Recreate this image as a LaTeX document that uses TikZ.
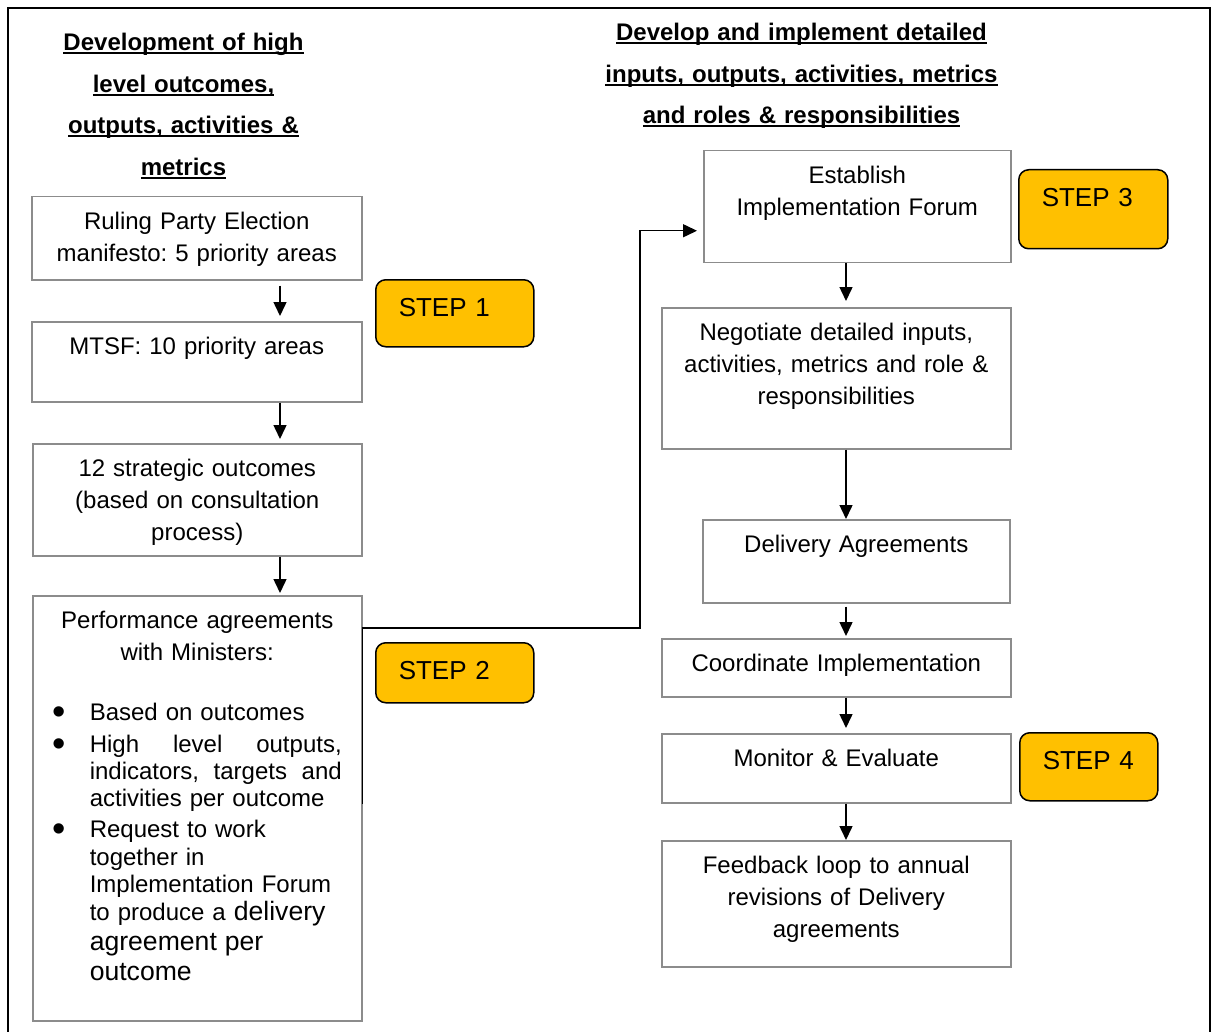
\documentclass[tikz,border=0pt]{standalone}
\usepackage{fontspec}
\setmainfont{Liberation Sans}
\usepackage{xcolor}
\usepackage{tikz}
\usetikzlibrary{arrows.meta, calc}
\definecolor{stepgold}{HTML}{FFC000}
\definecolor{boxgrey}{HTML}{8C8C8C}
\newcommand{\headline}[1]{\leavevmode\setbox0=\hbox{#1}\rlap{\rule[-3.5pt]{\wd0}{2.2pt}}\box0}
\newcommand{\bigtext}{\fontsize{26.6}{30}\selectfont}
\newcommand{\dotmark}{\raisebox{-4pt}{\fontsize{38}{38}\selectfont\textbullet}}
\newcommand{\dotitem}{\par\noindent\hangindent=51pt\hangafter=0\llap{\dotmark\hskip 24pt}}
\newcommand{\fullline}[1]{\hbox to 252pt{#1}}
\frenchspacing

\begin{document}
\begin{tikzpicture}[x=1pt, y=-1pt,
    flowbox/.style 2 args={draw=boxgrey, line width=1.5pt, anchor=north west,
        inner xsep=6pt, inner ysep=0pt, align=center, font=\fontsize{24}{32}\selectfont,
        text width=#1-12pt, text height=33pt, text depth=#2-33pt},
    stepbox/.style 2 args={draw=black, fill=stepgold, line width=1.5pt, rounded corners=10pt,
        anchor=north west, inner xsep=23pt, inner ysep=0pt, align=left,
        font=\fontsize{26}{30}\selectfont,
        text width=#1-46pt, text height=37pt, text depth=#2-37pt},
    heading/.style={anchor=base, inner sep=0pt, text width=420pt, align=center,
        font=\fontsize{24}{41.5}\selectfont\bfseries},
    flow/.style={line width=1.5pt, -{Triangle[length=14pt, width=13pt]}}]
    \useasboundingbox (0,0) rectangle (1212,1032);
    \draw[line width=2pt] (8,1032) -- (8,8) -- (1210,8) -- (1210,1032);

    \node[heading] (lefthead) at (183.5,51) {\headline{Development of high}\\
      \headline{level outcomes,}\\
      \headline{outputs, activities \&}\\
      \headline{metrics}};
    \node[heading] (righthead) at (801.5,41) {\headline{Develop and implement detailed}\\
      \headline{inputs, outputs, activities, metrics}\\
      \headline{and roles \& responsibilities}};

    \node[flowbox={330pt}{83pt}] (ruling) at (31,196) {Ruling Party Election\\manifesto: 5 priority areas};
    \node[flowbox={330pt}{80pt}] (mtsf) at (31,321) {MTSF: 10 priority areas};
    \node[flowbox={329pt}{112pt}] (outcomes) at (32,443) {12 strategic outcomes\\(based on consultation\\process)};
    \node[flowbox={329pt}{425pt}] (perf) at (32,595) {Performance agreements\\with Ministers:\\[28pt]
      \begin{minipage}[t]{317pt}\baselineskip=27.5pt\parskip=4pt\rightskip=14pt
      \dotitem Based on outcomes
      \dotitem \fullline{High\hfil level\hfil outputs,}\\\fullline{indicators,\hfil targets\hfil and}\\[-1pt]activities per outcome
      \dotitem Request to work\\together in\\Implementation Forum\\to produce a {\bigtext delivery}\\[2.5pt]{\bigtext agreement per}\\[2.5pt]{\bigtext outcome}
      \end{minipage}};

    \node[flowbox={307pt}{112pt}] (forum) at (703,150) {Establish\\Implementation Forum};
    \node[flowbox={349pt}{141pt}] (negotiate) at (661,307) {Negotiate detailed inputs,\\activities, metrics and role \&\\responsibilities};
    \node[flowbox={307pt}{83pt}] (delivery) at (702,519) {Delivery Agreements};
    \node[flowbox={349pt}{58pt}] (coordinate) at (661,638) {Coordinate Implementation};
    \node[flowbox={349pt}{69pt}] (monitor) at (661,733) {Monitor \& Evaluate};
    \node[flowbox={349pt}{126pt}] (feedback) at (661,840) {Feedback loop to annual\\revisions of Delivery\\agreements};

    \node[stepbox={158pt}{67pt}] (step1) at (375,279) {STEP 1};
    \node[stepbox={158pt}{60pt}] (step2) at (375,642) {STEP 2};
    \node[stepbox={149pt}{79pt}] (step3) at (1018,169) {STEP 3};
    \node[stepbox={138pt}{68pt}] (step4) at (1019,732) {STEP 4};

    \coordinate (leftline) at (280,0);
    \coordinate (rightline) at (846,0);
    \coordinate (bend) at (640,628);
    \draw[flow, shorten <=5pt, shorten >=5pt] (ruling.south -| leftline) -- (mtsf.north -| leftline);
    \draw[flow, shorten >=4pt] (mtsf.south -| leftline) -- (outcomes.north -| leftline);
    \draw[flow, shorten >=2pt] (outcomes.south -| leftline) -- (perf.north -| leftline);
    \draw[flow, shorten >=6pt] ([yshift=4.5pt]perf.east) |- (bend) |- ([yshift=-24pt]forum.west);
    \draw[flow, shorten >=6pt] (forum.south -| rightline) -- (negotiate.north -| rightline);
    \draw[flow] (negotiate.south -| rightline) -- (delivery.north -| rightline);
    \draw[flow, shorten <=3pt, shorten >=2pt] (delivery.south -| rightline) -- (coordinate.north -| rightline);
    \draw[flow, shorten >=5pt] (coordinate.south -| rightline) -- (monitor.north -| rightline);
    \draw[flow] (monitor.south -| rightline) -- (feedback.north -| rightline);
\end{tikzpicture}
\end{document}
